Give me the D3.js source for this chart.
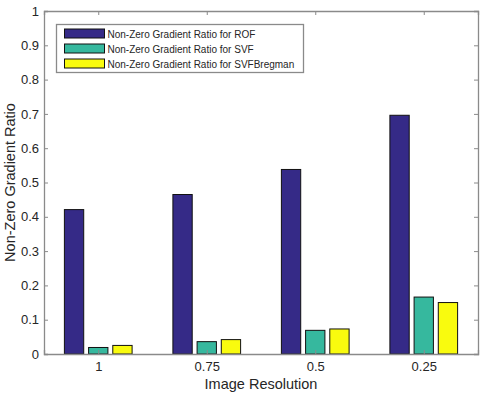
<!DOCTYPE html>
<html>
<head>
<meta charset="utf-8">
<script src="https://cdn.jsdelivr.net/npm/d3@7"></script>
<style>
  body { margin: 0; background: #fff; }
  text { font-family: "Liberation Sans", Arial, sans-serif; fill: #262626; }
</style>
</head>
<body>
<svg id="chart"></svg>
<script>
const resolutions = ['1', '0.75', '0.5', '0.25'];
const seriesNames = ['Non-Zero Gradient Ratio for ROF', 'Non-Zero Gradient Ratio for SVF', 'Non-Zero Gradient Ratio for SVFBregman'];
const rofValues = [0.421, 0.465, 0.538, 0.696];
const svfValues = [0.019, 0.036, 0.069, 0.166];
const svfBregmanValues = [0.025, 0.042, 0.073, 0.150];
const yTicks = [0, 0.1, 0.2, 0.3, 0.4, 0.5, 0.6, 0.7, 0.8, 0.9, 1];
const colors = ['#352a87', '#36b89e', '#f9fb0e'];

const allSeries = [rofValues, svfValues, svfBregmanValues];

const W = 493, H = 395;
const margin = { top: 11, right: 15, bottom: 41, left: 44 };
const width = W - margin.left - margin.right;
const height = H - margin.top - margin.bottom;

const svg = d3.select('#chart').attr('width', W).attr('height', H);
const g = svg.append('g').attr('transform', `translate(${margin.left},${margin.top})`);

// group positions 1..4 on a 0.5..4.5 domain, like MATLAB bar
const xScale = d3.scaleLinear().domain([0.5, 4.5]).range([0, width]);
const yScale = d3.scaleLinear().domain([0, 1]).range([height, 0]);

const groupW = xScale(2) - xScale(1);
const barStep = groupW * 0.223;
const barW = groupW * 0.178;

// bars
allSeries.forEach((vals, s) => {
    g.selectAll('.bar' + s)
        .data(vals)
        .enter().append('rect')
        .attr('x', (d, i) => xScale(i + 1) + (s - 1) * barStep - barW / 2)
        .attr('y', d => yScale(d))
        .attr('width', barW)
        .attr('height', d => yScale(0) - yScale(d))
        .attr('fill', colors[s])
        .attr('stroke', '#111')
        .attr('stroke-width', 1);
});

// axes (MATLAB style: ticks inside, box on)
const axisColor = '#8a8a8a';
const tickLen = 4;

const yAxis = d3.axisLeft(yScale).tickValues(yTicks).tickSize(-tickLen).tickPadding(5)
    .tickFormat(d => d3.format('')(+d.toFixed(1)));
const gy = g.append('g').call(yAxis);

const yAxisR = d3.axisRight(yScale).tickValues(yTicks).tickSize(-tickLen).tickFormat('');
const gyr = g.append('g').attr('transform', `translate(${width},0)`).call(yAxisR);

const xAxis = d3.axisBottom(xScale).tickValues([1, 2, 3, 4]).tickSize(-tickLen).tickPadding(8)
    .tickFormat((d, i) => resolutions[i]);
const gx = g.append('g').attr('transform', `translate(0,${height})`).call(xAxis);

const xAxisT = d3.axisTop(xScale).tickValues([1, 2, 3, 4]).tickSize(-tickLen).tickFormat('');
const gxt = g.append('g').call(xAxisT);

[gy, gyr, gx, gxt].forEach(a => {
    a.select('.domain').attr('stroke', axisColor).attr('stroke-width', 1.3);
    a.selectAll('.tick line').attr('stroke', axisColor);
    a.selectAll('.tick text')
        .style('font-family', '"Liberation Sans", Arial, sans-serif')
        .style('font-size', '13px')
        .attr('fill', '#262626');
});

// axis labels
svg.append('text')
    .attr('x', margin.left + width / 2)
    .attr('y', 389)
    .attr('text-anchor', 'middle')
    .style('font-size', '14.5px')
    .text('Image Resolution');

svg.append('text')
    .attr('transform', `translate(15,${margin.top + height / 2}) rotate(-90)`)
    .attr('text-anchor', 'middle')
    .style('font-size', '14.5px')
    .text('Non-Zero Gradient Ratio');

// legend
const legend = svg.append('g').attr('transform', 'translate(56.5,24.5)');
legend.append('rect')
    .attr('width', 247)
    .attr('height', 48)
    .attr('fill', '#fff')
    .attr('stroke', axisColor)
    .attr('stroke-width', 1.3);

seriesNames.forEach((name, i) => {
    const row = legend.append('g').attr('transform', `translate(0,${9 + i * 15})`);
    row.append('rect')
        .attr('x', 8)
        .attr('y', -4.5)
        .attr('width', 40)
        .attr('height', 9)
        .attr('fill', colors[i])
        .attr('stroke', '#111')
        .attr('stroke-width', 1);
    row.append('text')
        .attr('x', 51)
        .attr('y', 4)
        .style('font-size', '10px')
        .text(name);
});
</script>
</body>
</html>
